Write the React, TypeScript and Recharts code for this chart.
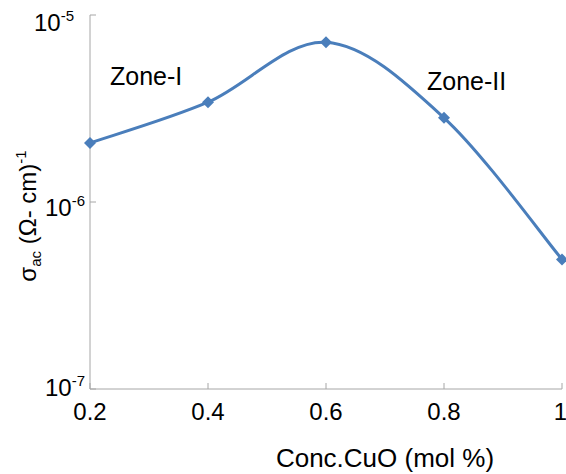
import { LineChart, Line, XAxis, YAxis, Customized } from 'recharts'

const conc = [0.2, 0.4, 0.6, 0.8, 1]
const sigmaAc = [2.07e-6, 3.42e-6, 7.15e-6, 2.82e-6, 4.93e-7]
const xTicks = [0.2, 0.4, 0.6, 0.8, 1]
const yTicks = [1e-7, 1e-6, 1e-5]

const data = conc.map((c, i) => ({ conc: c, sigma: sigmaAc[i] }))

const BLUE = '#4A7EBB'
const AXIS = '#a6a6a6'
const FONT = '"Liberation Sans", Arial, sans-serif'

// smoothed line like a spreadsheet "smooth line" (Catmull-Rom through each point)
function smoothCurve(context: any) {
  let pts: [number, number][] = []
  return {
    areaStart() {},
    areaEnd() {},
    lineStart() {
      pts = []
    },
    lineEnd() {
      if (!pts.length) return
      context.moveTo(pts[0][0], pts[0][1])
      for (let i = 0; i < pts.length - 1; i++) {
        const p0 = pts[Math.max(i - 1, 0)]
        const p1 = pts[i]
        const p2 = pts[i + 1]
        const p3 = pts[Math.min(i + 2, pts.length - 1)]
        context.bezierCurveTo(
          p1[0] + (p2[0] - p0[0]) / 6,
          p1[1] + (p2[1] - p0[1]) / 6,
          p2[0] - (p3[0] - p1[0]) / 6,
          p2[1] - (p3[1] - p1[1]) / 6,
          p2[0],
          p2[1],
        )
      }
    },
    point(x: number, y: number) {
      pts.push([+x, +y])
    },
  }
}

function Diamond(props: any) {
  const { cx, cy } = props
  if (cx == null || cy == null) return null
  const s = 6
  return (
    <polygon
      points={`${cx},${cy - s} ${cx + s},${cy} ${cx},${cy + s} ${cx - s},${cy}`}
      fill={BLUE}
    />
  )
}

function XTick(props: any) {
  const { x, y, payload } = props
  const last = payload.value === 1
  return (
    <g>
      <line x1={x} x2={x} y1={y} y2={y - 6} stroke={AXIS} />
      <text
        x={last ? x + 5 : x}
        y={y + 31}
        textAnchor={last ? 'end' : 'middle'}
        fontSize={24}
        fontFamily={FONT}
        fill="#000"
      >
        {last ? '1' : payload.value.toFixed(1)}
      </text>
    </g>
  )
}

// label offsets per decade (labels sit a little unevenly against their ticks)
const yLabelDy: Record<number, number> = { [-5]: 16, [-6]: 14, [-7]: 7 }

function YTick(props: any) {
  const { x, y, payload } = props
  const exp = Math.round(Math.log10(payload.value))
  const right = exp === -5 ? x - 16 : x - 5
  return (
    <g>
      <line x1={x} x2={x + 6} y1={y} y2={y} stroke={AXIS} />
      <text x={right} y={y + (yLabelDy[exp] ?? 12)} textAnchor="end" fontSize={24} fontFamily={FONT} fill="#000">
        10
        <tspan fontSize={15} dy={-10}>
          {String(exp)}
        </tspan>
      </text>
    </g>
  )
}

function Annotations() {
  return (
    <g fontFamily={FONT} fill="#000">
      <text x={110} y={85} fontSize={25}>
        Zone-I
      </text>
      <text x={427} y={90} fontSize={25}>
        Zone-II
      </text>
      <text x={385} y={467} fontSize={26} textAnchor="middle">
        Conc.CuO (mol %)
      </text>
      <text x={36} y={216} fontSize={24} textAnchor="middle" transform="rotate(-90, 36, 216)">
        σ
        <tspan fontSize={15} dy={5}>
          ac
        </tspan>
        <tspan dy={-5}> (Ω- cm)</tspan>
        <tspan fontSize={15} dy={-10}>
          -1
        </tspan>
      </text>
    </g>
  )
}

export default function App() {
  return (
    <div style={{ position: 'absolute', left: 0, top: 0, background: '#fff' }}>
      <LineChart
        width={566}
        height={474}
        data={data}
        margin={{ top: 15, right: 4, left: 0, bottom: 0 }}
      >
        <XAxis
          dataKey="conc"
          type="number"
          domain={[0.2, 1]}
          ticks={xTicks}
          height={85}
          stroke={AXIS}
          tickLine={false}
          tickSize={0}
          tickMargin={0}
          tick={<XTick />}
          interval={0}
        />
        <YAxis
          dataKey="sigma"
          scale="log"
          type="number"
          domain={[1e-7, 1e-5]}
          ticks={yTicks}
          width={90}
          stroke={AXIS}
          tickLine={false}
          tickSize={0}
          tickMargin={0}
          tick={<YTick />}
          interval={0}
          allowDataOverflow
        />
        <Line
          dataKey="sigma"
          type={smoothCurve as any}
          stroke={BLUE}
          strokeWidth={3}
          dot={<Diamond />}
          activeDot={false}
          isAnimationActive={false}
        />
        <Customized component={Annotations} />
      </LineChart>
    </div>
  )
}
